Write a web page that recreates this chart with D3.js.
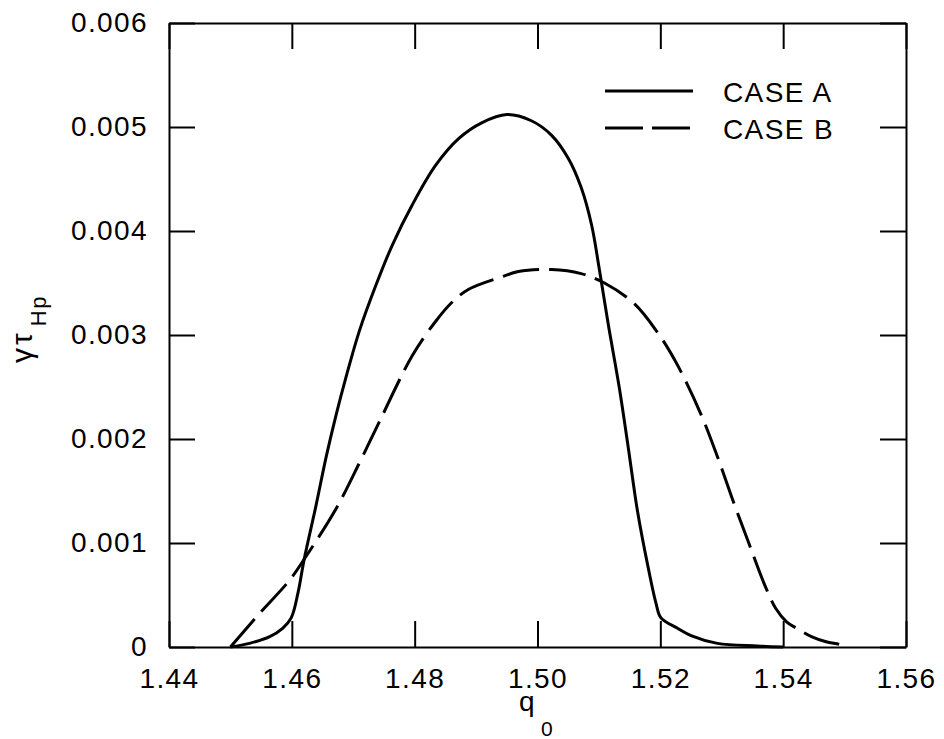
<!DOCTYPE html>
<meta charset="utf-8">
<script src="https://d3js.org/d3.v7.min.js"></script>
<style>
  body { margin: 0; background: #fff; }
  svg text { font-family: "Liberation Sans", Arial, sans-serif; fill: #000; letter-spacing: 1.4px; }
</style>

<div id="chart"></div>

<script>
// tick values and labels
var xTicks = [1.44, 1.46, 1.48, 1.50, 1.52, 1.54, 1.56];
var xTickLabels = ["1.44", "1.46", "1.48", "1.50", "1.52", "1.54", "1.56"];
var yTicks = [0, 0.001, 0.002, 0.003, 0.004, 0.005, 0.006];
var yTickLabels = ["0", "0.001", "0.002", "0.003", "0.004", "0.005", "0.006"];

var seriesNames = ["CASE A", "CASE B"];

// CASE A (solid)
var caseAq = [1.4500, 1.4531, 1.4564, 1.4585, 1.4599, 1.4610, 1.4620, 1.4639, 1.4656, 1.4672,
  1.4688, 1.4710, 1.4737, 1.4764, 1.4796, 1.4834, 1.4872, 1.4909, 1.4950, 1.4990,
  1.5023, 1.5050, 1.5071, 1.5088, 1.5101, 1.5115, 1.5133, 1.5147, 1.5163, 1.5180,
  1.5193, 1.5201, 1.5228, 1.5250, 1.5293, 1.5358, 1.5400];
var caseAv = [0, 0.000035, 0.00010, 0.00018, 0.00028, 0.00052, 0.00084, 0.00135, 0.00183, 0.00223,
  0.00259, 0.00304, 0.00348, 0.00387, 0.00425, 0.00463, 0.00489, 0.00504, 0.00512, 0.00506,
  0.00492, 0.00470, 0.00442, 0.00406, 0.00362, 0.00311, 0.00250, 0.00195, 0.00130, 0.00077,
  0.00042, 0.00028, 0.00018, 0.00011, 0.000035, 0.00001, 0];

// CASE B (dashed)
var caseBq = [1.4500, 1.4547, 1.4596, 1.4623, 1.4672, 1.4710, 1.4742, 1.4796, 1.4834, 1.4860,
  1.4888, 1.4942, 1.4969, 1.5023, 1.5071, 1.5109, 1.5158, 1.5196, 1.5228, 1.5266,
  1.5293, 1.5320, 1.5344, 1.5369, 1.5388, 1.5406, 1.5422, 1.5446, 1.5470, 1.5494, 1.5500];
var caseBv = [0, 0.00032, 0.00064, 0.00087, 0.00133, 0.00177, 0.00216, 0.00280, 0.00313, 0.00331,
  0.00344, 0.00356, 0.00361, 0.00363, 0.00359, 0.00350, 0.00330, 0.00302, 0.00271, 0.00224,
  0.00183, 0.00138, 0.00100, 0.00061, 0.00037, 0.00024, 0.00018, 0.00010, 0.00005, 0.00002, 0];

var width = 944, height = 739;
var plotL = 169, plotR = 906, plotT = 23, plotB = 647;

var svg = d3.select("#chart")
  .append("svg")
  .attr("width", width)
  .attr("height", height);

var x = d3.scaleLinear().domain([1.44, 1.56]).range([plotL, plotR]);
var y = d3.scaleLinear().domain([0, 0.006]).range([plotB, plotT]);

// axes, ticks pointing inward on all four sides
function styleAxis(g) {
  g.attr("font-family", null).attr("font-size", null);
  g.select(".domain").attr("stroke-width", 2);
  g.selectAll(".tick line").attr("stroke-width", 2);
  g.selectAll(".tick text").style("font-size", "28px");
}

svg.append("g")
  .attr("transform", "translate(0," + plotB + ")")
  .call(d3.axisBottom(x).tickValues(xTicks)
    .tickFormat(function (d, i) { return xTickLabels[i]; })
    .tickSizeInner(-26).tickSizeOuter(0).tickPadding(21))
  .call(styleAxis);

svg.append("g")
  .attr("transform", "translate(0," + plotT + ")")
  .call(d3.axisTop(x).tickValues(xTicks).tickFormat("")
    .tickSizeInner(-26).tickSizeOuter(0))
  .call(styleAxis);

svg.append("g")
  .attr("transform", "translate(" + plotL + ",0)")
  .call(d3.axisLeft(y).tickValues(yTicks)
    .tickFormat(function (d, i) { return yTickLabels[i]; })
    .tickSizeInner(-26).tickSizeOuter(0).tickPadding(21))
  .call(styleAxis);

svg.append("g")
  .attr("transform", "translate(" + plotR + ",0)")
  .call(d3.axisRight(y).tickValues(yTicks).tickFormat("")
    .tickSizeInner(-26).tickSizeOuter(0))
  .call(styleAxis);

// curves
var line = d3.line()
  .x(function (d) { return x(d[0]); })
  .y(function (d) { return y(d[1]); })
  .curve(d3.curveCatmullRom.alpha(0.5));

svg.append("path")
  .datum(d3.zip(caseAq, caseAv))
  .attr("fill", "none")
  .attr("stroke", "#000")
  .attr("stroke-width", 3)
  .attr("d", line);

svg.append("path")
  .datum(d3.zip(caseBq, caseBv))
  .attr("fill", "none")
  .attr("stroke", "#000")
  .attr("stroke-width", 3)
  .attr("stroke-dasharray", "37,10")
  .attr("d", line);

// legend
var legend = svg.append("g");
legend.append("line")
  .attr("x1", 605).attr("x2", 693).attr("y1", 91).attr("y2", 91)
  .attr("stroke", "#000").attr("stroke-width", 3);
legend.append("line")
  .attr("x1", 605).attr("x2", 692).attr("y1", 128).attr("y2", 128)
  .attr("stroke", "#000").attr("stroke-width", 3)
  .attr("stroke-dasharray", "38,9");
legend.append("text")
  .attr("x", 723).attr("y", 101.5)
  .style("font-size", "28px")
  .text(seriesNames[0]);
legend.append("text")
  .attr("x", 723).attr("y", 138.5)
  .style("font-size", "28px")
  .text(seriesNames[1]);

// axis titles
var xt = svg.append("text")
  .attr("x", 519).attr("y", 711)
  .style("font-size", "28px")
  .text("q");
xt.append("tspan")
  .attr("dx", 5).attr("dy", 25)
  .style("font-size", "21px")
  .text("0");

var yt = svg.append("text")
  .attr("transform", "translate(32,363) rotate(-90)")
  .style("font-size", "30px")
  .style("letter-spacing", "3px")
  .text("γτ");
yt.append("tspan")
  .attr("dx", 4).attr("dy", 14)
  .style("font-size", "22px")
  .style("letter-spacing", "1.4px")
  .text("Hp");
</script>
